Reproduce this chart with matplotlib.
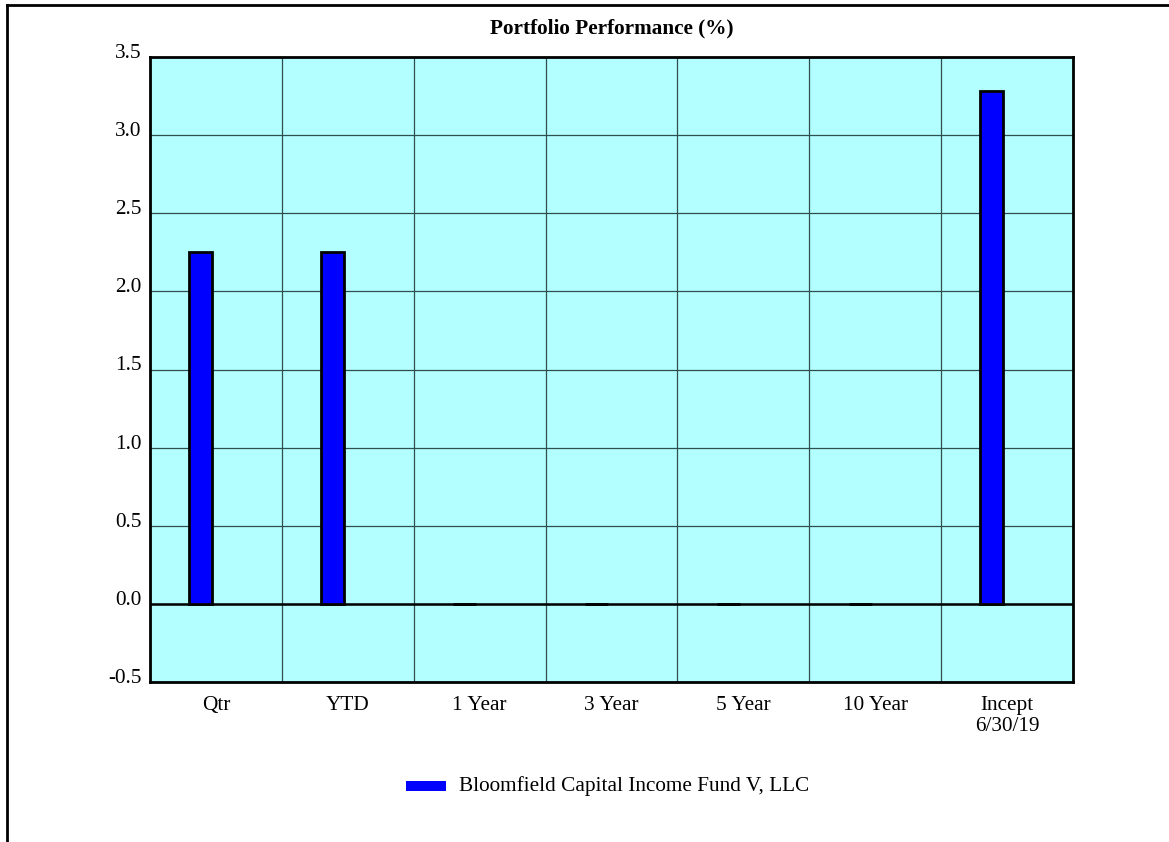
import matplotlib
matplotlib.use("Agg")
import matplotlib.pyplot as plt
import matplotlib.transforms as mtransforms
import numpy as np
from matplotlib.lines import Line2D
from matplotlib.patches import Rectangle

categories = ["Qtr", "YTD", "1 Year", "3 Year", "5 Year", "10 Year", "Incept\n6/30/19"]
fund_values = [2.25, 2.25, 0.0, 0.0, 0.0, 0.0, 3.28]
series_name = "Bloomfield Capital Income Fund V, LLC"
yticks = [-0.5, 0.0, 0.5, 1.0, 1.5, 2.0, 2.5, 3.0, 3.5]
title = "Portfolio Performance (%)"

plt.rcParams['font.family'] = ['Liberation Serif', 'DejaVu Serif']

W, H = 1169, 842
FS = 15.3
fig = plt.figure(figsize=(W / 100, H / 100), dpi=100)

ax = fig.add_axes([150 / W, 160 / H, 923 / W, 625 / H])
ax.set_facecolor('#B3FFFF')
n = len(categories)
ax.set_xlim(0, n)
ax.set_ylim(-0.5, 3.5)

ax.set_yticks(yticks)
ax.set_yticklabels([f"{v:.1f}" for v in yticks], fontsize=FS)
ax.set_xticks(np.arange(1, n))
ax.set_xticklabels([])
ax.grid(True, color='#2F4F4F', linewidth=0.9)
ax.set_axisbelow(True)
ax.tick_params(length=0, pad=6)
offset = mtransforms.ScaledTranslation(0, 6 / 100, fig.dpi_scale_trans)
for lab in ax.get_yticklabels():
    lab.set_transform(lab.get_transform() + offset)

x = np.arange(n) + 0.5 - 0.115
ax.bar(x, fund_values, width=0.175, color='#0000FF', edgecolor='black',
       linewidth=2, zorder=3)
ax.axhline(0, color='black', linewidth=1.8, zorder=2.5)

for s in ax.spines.values():
    s.set_linewidth(2)
    s.set_color('black')

px = 625 / 4.0
for i, c in enumerate(categories):
    ax.text(i + 0.5, -0.5 - 14 / px, c, ha='center', va='top',
            fontsize=FS, linespacing=1.12)

fig.text(611.5 / W, 1 - 28 / H, title, ha='center', va='center',
         fontsize=FS, fontweight='bold')

fig.add_artist(Rectangle((406 / W, 1 - 791 / H), 40 / W, 10 / H,
                         transform=fig.transFigure,
                         facecolor='#0000FF', edgecolor='none'))
fig.text(459 / W, 1 - 786 / H, series_name, ha='left', va='center', fontsize=FS)

fig.add_artist(Line2D([7 / W, 1], [1 - 5 / H, 1 - 5 / H], transform=fig.transFigure,
                      color='black', linewidth=2))
fig.add_artist(Line2D([7 / W, 7 / W], [0, 1 - 5 / H], transform=fig.transFigure,
                      color='black', linewidth=2))

fig.savefig("out.png", dpi=100)
